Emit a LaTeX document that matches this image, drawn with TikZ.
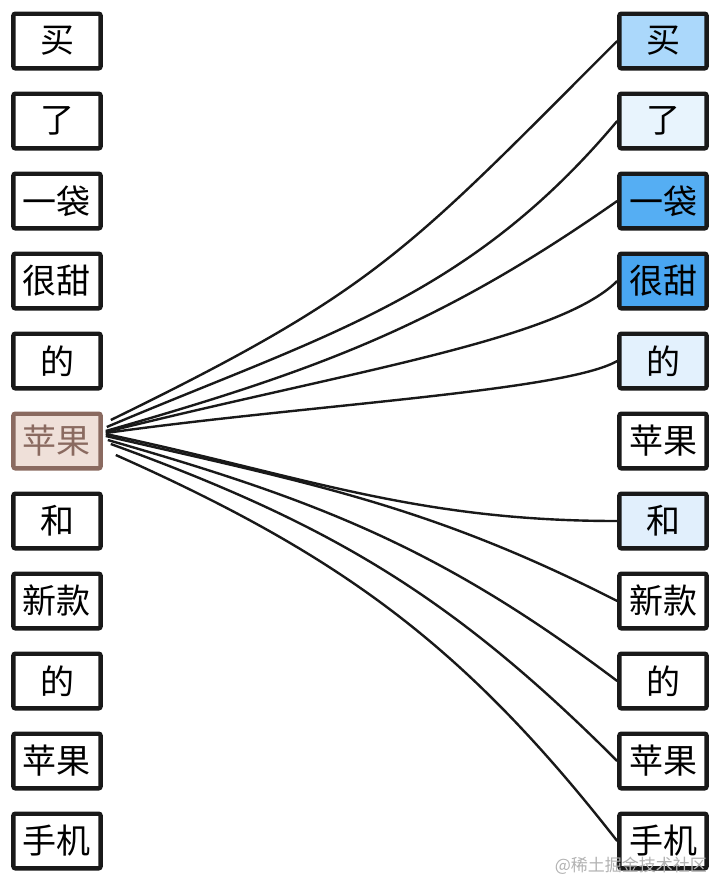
\documentclass[tikz,border=0pt]{standalone}
\usepackage{fontspec}
\newfontfamily\cjk{Noto Sans CJK SC}
\usetikzlibrary{positioning}
\definecolor{srcfill}{HTML}{EFE0D9}
\definecolor{srcline}{HTML}{8A6A60}
\definecolor{wA}{HTML}{ABD8FB}
\definecolor{wB}{HTML}{E8F4FD}
\definecolor{wC}{HTML}{55AEF3}
\definecolor{wD}{HTML}{49A6F1}
\definecolor{wE}{HTML}{E3F1FD}
\definecolor{wF}{HTML}{E1EFFC}

\begin{document}
\begin{tikzpicture}[x=0.5pt,y=-0.5pt,
tok/.style={
  draw=black!90,
  line width=2.2pt,
  rounded corners=1pt,
  minimum width=43.6pt,
  minimum height=27.3pt,
  inner sep=0pt,
  font=\cjk\fontsize{17pt}{19pt}\selectfont},
srctok/.style={
  tok,
  draw=srcline,
  fill=srcfill,
  text=srcline},
link/.style={
  line width=1.2pt,
  black!90}
]
\useasboundingbox (0,0) rectangle (720,880);
% left column, the query word is l6
\foreach \txt/\st [count=\i] in {买/tok,了/tok,一袋/tok,很甜/tok,的/tok,苹果/srctok,和/tok,新款/tok,的/tok,苹果/tok,手机/tok}
  \node[\st] (l\i) at (57,{41+80*(\i-1)}) {\txt};
% right column, shaded by weight
\foreach \txt/\col [count=\i] in {买/wA,了/wB,一袋/wC,很甜/wD,的/wE,苹果/white,和/wF,新款/white,的/white,苹果/white,手机/white}
  \node[tok,fill=\col] (r\i) at (663,{41+80*(\i-1)}) {\txt};
\draw[link] ([shift={(8,-21)}]l6.east) to[out=26,in=225,looseness=1.2] (r1.west);
\draw[link] ([shift={(4,-14)}]l6.east) to[out=23,in=230] (r2.west);
\draw[link] ([shift={(3,-10)}]l6.east) to[out=16,in=215] (r3.west);
\draw[link] ([shift={(3,-9)}]l6.east) to[out=14,in=225,out looseness=1.2,in looseness=0.4] (r4.west);
\draw[link] ([shift={(3,-8)}]l6.east) to[out=8,in=210,in looseness=0.3] (r5.west);
\draw[link] ([shift={(3,-7)}]l6.east) to[out=-12,in=180] (r7.west);
\draw[link] ([shift={(3,-5)}]l6.east) to[out=-13,in=153] (r8.west);
\draw[link] ([shift={(5,-1)}]l6.east) to[out=-16,in=143] (r9.west);
\draw[link] ([shift={(8,3)}]l6.east) to[out=-20,in=135] (r10.west);
\draw[link] ([shift={(13,14)}]l6.east) to[out=-24,in=128] (r11.west);
\node[text=black!30,font=\cjk\fontsize{8.5pt}{10pt}\selectfont,anchor=east] (wm) at (714,866) {@稀土掘金技术社区};
\end{tikzpicture}
\end{document}
